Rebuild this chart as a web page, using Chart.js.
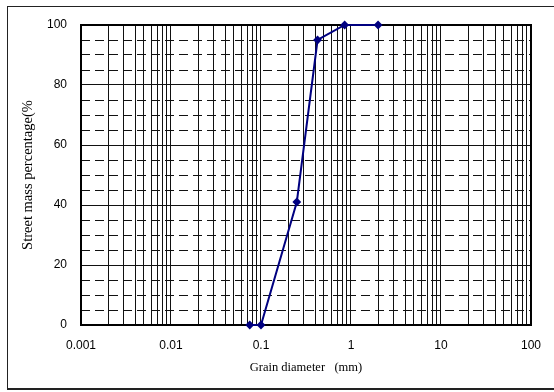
<!DOCTYPE html>
<html>
<head>
<meta charset="utf-8">
<script src="https://cdn.jsdelivr.net/npm/chart.js@4/dist/chart.umd.min.js"></script>
<style>
  html, body { margin: 0; padding: 0; background: #fff; }
  #wrap { width: 554px; height: 392px; position: relative; }
</style>
</head>
<body>
<div id="wrap"><canvas id="c" width="554" height="392"></canvas></div>
<script>
// ---- data ----
const grainDiameter = [0.075, 0.1, 0.25, 0.425, 0.85, 2];
const passingPercent = [0, 0, 41, 95, 100, 100];

// ---- axis ticks ----
const xDecades = [0.001, 0.01, 0.1, 1, 10, 100];
const xDecadeLabels = ['0.001', '0.01', '0.1', '1', '10', '100'];
const xMinorMultipliers = [1, 2, 3, 4, 5, 6, 7, 8, 9];
const yGridValues = [0, 5, 10, 15, 20, 25, 30, 35, 40, 45, 50, 55, 60, 65, 70, 75, 80, 85, 90, 95, 100];
const yLabelValues = [0, 20, 40, 60, 80, 100];

const xGridValues = [];
xDecades.forEach((d, i) => {
  if (i === xDecades.length - 1) { xGridValues.push(d); return; }
  xMinorMultipliers.forEach(m => xGridValues.push(+(d * m).toPrecision(6)));
});

const framePlugin = {
  id: 'frames',
  beforeDraw(chart) {
    const ctx = chart.ctx;
    ctx.save();
    ctx.fillStyle = '#fff';
    ctx.fillRect(0, 0, chart.width, chart.height);
    ctx.strokeStyle = '#222';
    ctx.lineWidth = 1;
    ctx.strokeRect(7.5, 6.5, 600, 382);
    ctx.lineWidth = 2;
    ctx.beginPath();
    ctx.moveTo(7, 389);
    ctx.lineTo(554, 389);
    ctx.stroke();
    ctx.restore();
  },
  beforeDatasetsDraw(chart) {
    const { ctx, chartArea: a } = chart;
    ctx.save();
    ctx.strokeStyle = '#000';
    ctx.lineWidth = 2;
    ctx.strokeRect(a.left, a.top, a.right - a.left, a.bottom - a.top);
    ctx.restore();
  }
};

new Chart(document.getElementById('c'), {
  type: 'line',
  data: {
    datasets: [{
      data: grainDiameter.map((x, i) => ({ x: x, y: passingPercent[i] })),
      borderColor: '#000080',
      backgroundColor: '#000080',
      borderWidth: 2,
      pointStyle: 'rectRot',
      pointRadius: 3,
      pointHoverRadius: 3,
      tension: 0,
      clip: false
    }]
  },
  options: {
    responsive: false,
    animation: false,
    devicePixelRatio: 1,
    layout: { padding: { left: 0, top: 25, right: 21, bottom: 0 } },
    plugins: { legend: { display: false }, tooltip: { enabled: false } },
    scales: {
      x: {
        type: 'logarithmic',
        min: 0.001,
        max: 100,
        afterBuildTicks: axis => { axis.ticks = xGridValues.map(v => ({ value: v })); },
        afterFit: axis => { axis.height = 67; },
        ticks: {
          autoSkip: false,
          maxRotation: 0,
          minRotation: 0,
          padding: 13,
          color: '#000',
          font: { family: '"Liberation Sans", Arial, sans-serif', size: 12 },
          callback: function (value) {
            const idx = xDecades.findIndex(d => Math.abs(d - value) / d < 1e-6);
            return idx >= 0 ? xDecadeLabels[idx] : '';
          }
        },
        grid: { color: '#111', lineWidth: 1, drawTicks: false },
        border: { display: false },
        title: {
          display: true,
          text: 'Grain diameter   (mm)',
          color: '#000',
          font: { family: '"Liberation Serif", "Times New Roman", serif', size: 12.5 },
          padding: { top: 0, bottom: 17 }
        }
      },
      y: {
        type: 'linear',
        min: 0,
        max: 100,
        afterBuildTicks: axis => { axis.ticks = yGridValues.map(v => ({ value: v })); },
        afterFit: axis => { axis.width = 81; },
        ticks: {
          autoSkip: false,
          padding: 14,
          color: '#000',
          font: { family: '"Liberation Sans", Arial, sans-serif', size: 12 },
          callback: v => (yLabelValues.includes(v) ? String(v) : '')
        },
        grid: { color: '#111', lineWidth: 1, drawTicks: false },
        border: {
          display: false,
          dash: ctx => (ctx.tick && !yLabelValues.includes(ctx.tick.value) ? [9, 5] : [])
        },
        title: {
          display: true,
          text: 'Street mass percentage(%',
          color: '#000',
          font: { family: '"Liberation Serif", "Times New Roman", serif', size: 14.5 },
          padding: { top: 19, bottom: 0 }
        }
      }
    }
  },
  plugins: [framePlugin]
});
</script>
</body>
</html>
